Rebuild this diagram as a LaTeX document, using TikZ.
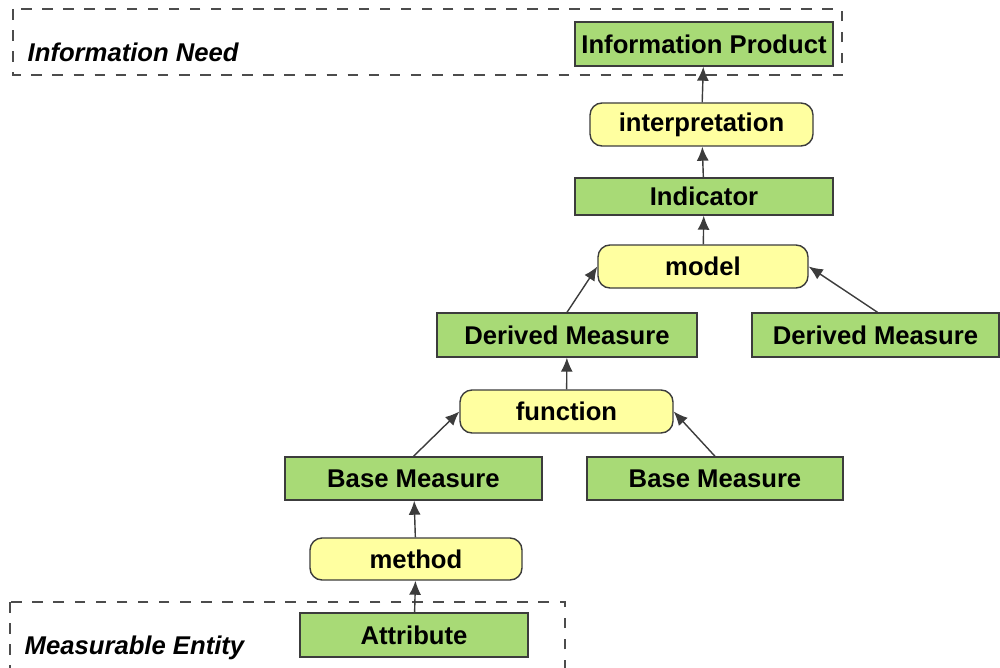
\documentclass[tikz,border=0pt]{standalone}
\usepackage{fontspec}
\setmainfont{Liberation Sans}
\usetikzlibrary{arrows.meta}
\definecolor{boxgreen}{RGB}{168,218,118}
\definecolor{boxyellow}{RGB}{255,255,160}
\definecolor{edgegray}{RGB}{60,60,60}
\begin{document}
\begin{tikzpicture}[
    font=\fontsize{7.3}{9}\selectfont\bfseries,
    block/.style={draw=edgegray, thin, inner sep=0pt, text=black},
    measure/.style={block, fill=boxgreen, minimum height=0.44cm},
    process/.style={block, fill=boxyellow, rounded corners=1.2mm, minimum height=0.43cm},
    region/.style={draw=black!70, dashed, thin},
    label/.style={anchor=west, inner sep=0pt, font=\fontsize{7.3}{9}\selectfont\bfseries\itshape},
    link/.style={draw=edgegray, thin, -{Latex[length=1.4mm,width=1.2mm]}},
]
    \useasboundingbox (0,0) rectangle (10,-6.67);

    % Dashed regions
    \draw[region] (0.13,-0.09) rectangle (8.42,-0.75);
    \draw[region] (0.10,-6.02) rectangle (5.65,-6.75);
    \node[label] (need) at (0.27,-0.52) {Information Need};
    \node[label] (entity) at (0.24,-6.48) {Measurable Entity};

    % Upper chain
    \node[measure, minimum width=2.58cm] (product) at (7.04,-0.44) {Information Product};
    \node[process, minimum width=2.23cm] (interp) at (7.015,-1.245) {interpretation};
    \node[measure, minimum width=2.58cm, minimum height=0.37cm] (indicator) at (7.04,-1.965) {Indicator};
    \node[process, minimum width=2.10cm] (model) at (7.03,-2.665) {model};

    % Derived measures
    \node[measure, minimum width=2.60cm] (derivedA) at (5.67,-3.35) {Derived Measure};
    \node[measure, minimum width=2.47cm] (derivedB) at (8.755,-3.35) {Derived Measure};
    \node[process, minimum width=2.13cm] (func) at (5.665,-4.115) {function};

    % Base measures
    \node[measure, minimum width=2.57cm, minimum height=0.43cm] (baseA) at (4.135,-4.785) {Base Measure};
    \node[measure, minimum width=2.56cm, minimum height=0.43cm] (baseB) at (7.15,-4.785) {Base Measure};
    \node[process, minimum width=2.12cm, minimum height=0.42cm] (method) at (4.16,-5.59) {method};
    \node[measure, minimum width=2.28cm] (attribute) at (4.14,-6.35) {Attribute};

    % Connections
    \draw[link] (attribute) -- (method);
    \draw[link] (method) -- (baseA);
    \draw[link] (baseA.north) -- (func.west);
    \draw[link] (baseB.north) -- (func.east);
    \draw[link] (func) -- (derivedA);
    \draw[link] (derivedA.north) -- (model.west);
    \draw[link] ([xshift=0.02cm]derivedB.north) -- (model.east);
    \draw[link] (model) -- (indicator);
    \draw[link] (indicator) -- (interp);
    \draw[link] (interp) -- (product);
\end{tikzpicture}
\end{document}
